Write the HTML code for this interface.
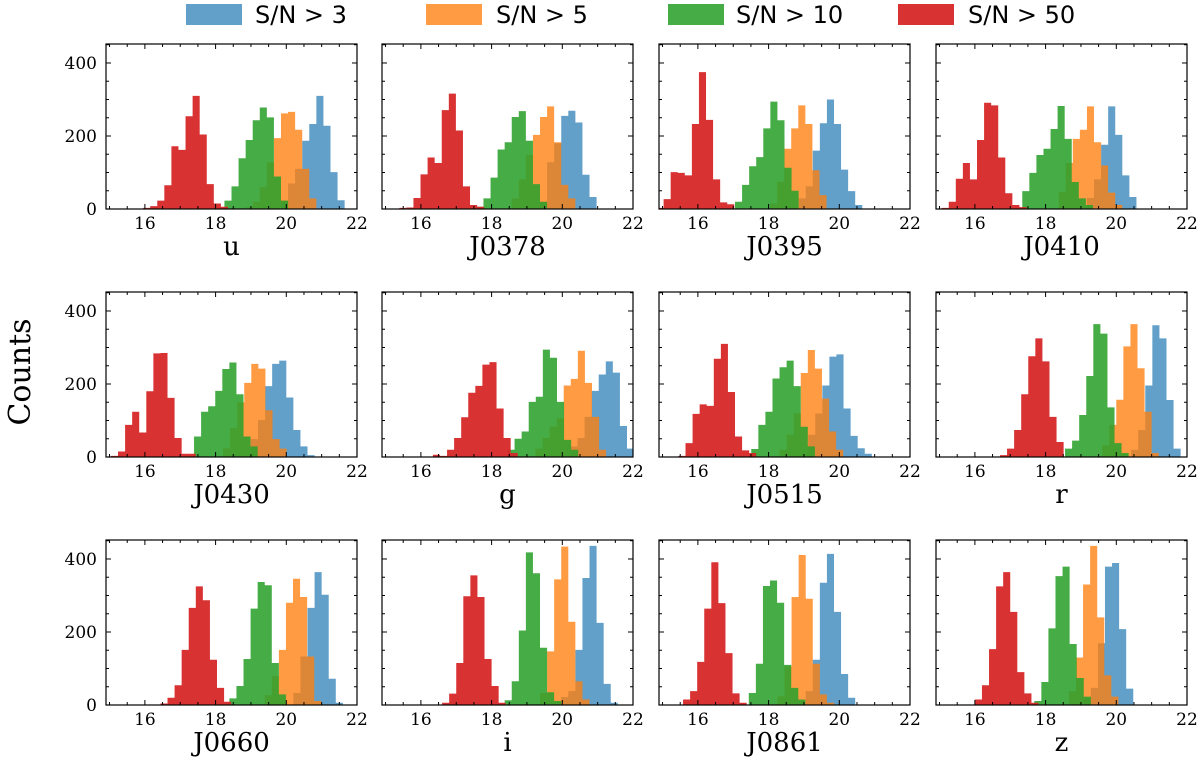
<!DOCTYPE html>
<html><head><meta charset="utf-8"><style>
html,body{margin:0;padding:0;background:#fff;}
svg{display:block;}
</style></head><body>
<svg id="fig" xmlns="http://www.w3.org/2000/svg" width="1200" height="764" viewBox="0 0 1200 764">
<rect x="0" y="0" width="1200" height="764" fill="#fff"/>
<g id="legend">
  <g><rect x="186" y="4" width="56" height="21" fill="#1f77b4" fill-opacity="0.7"/><text x="255" y="23" font-family="DejaVu Sans, sans-serif" font-size="24">S/N &gt; 3</text></g>
  <g><rect x="426" y="4" width="56" height="21" fill="#ff7f0e" fill-opacity="0.78"/><text x="496" y="23" font-family="DejaVu Sans, sans-serif" font-size="24">S/N &gt; 5</text></g>
  <g><rect x="668" y="4" width="56" height="21" fill="#2ca02c" fill-opacity="0.88"/><text x="736" y="23" font-family="DejaVu Sans, sans-serif" font-size="24">S/N &gt; 10</text></g>
  <g><rect x="898" y="4" width="56" height="21" fill="#d62728" fill-opacity="0.95"/><text x="968" y="23" font-family="DejaVu Sans, sans-serif" font-size="24">S/N &gt; 50</text></g>
</g>
<text x="0" y="0" transform="translate(30,372) rotate(-90)" text-anchor="middle" font-family="DejaVu Serif, Liberation Serif, serif" font-size="30">Counts</text>
<g id="panels"></g>
</svg>
<script>
const panelNames = ['u','J0378','J0395','J0410','J0430','g','J0515','r','J0660','i','J0861','z'];
const xTicks = [16,18,20,22];
const yTicks = [0,200,400];
const binWidth = 0.2;

const blueStart = [19.85,19.37,18.85,19.17,19.0,20.23,19.12,20.42,20.2,19.97,19.05,19.08];
const blueCounts = [
 [23,70,110,187,233,310,228,101,24],
 [20,128,180,255,269,237,94,33],
 [29,62,160,235,300,233,108,49,11],
 [30,81,176,281,203,92,33],
 [49,101,194,255,264,163,74,29,5],
 [29,52,110,181,226,262,231,85,23],
 [61,119,196,275,281,133,58,24,9],
 [20,74,196,361,325,156,23],
 [33,133,266,364,302,72,6],
 [22,38,151,348,436,225,58,6],
 [38,124,335,414,255,85,20],
 [20,47,169,379,389,208,45]
];
const orangeStart = [18.85,18.57,18.04,18.37,18.21,19.24,18.31,19.6,19.39,19.37,18.25,18.66];
const orangeCounts = [
 [5,20,60,128,194,262,266,217,110,29],
 [29,81,148,203,252,281,183,66,29],
 [15,75,165,221,284,233,106,38],
 [47,126,192,217,281,183,119,45,11],
 [24,79,150,203,255,242,128,49,23],
 [23,52,83,106,196,214,291,203,110,20],
 [20,61,119,230,293,242,160,70,20],
 [32,88,157,303,364,243,124,11],
 [27,79,151,280,346,296,133,11],
 [33,147,344,434,228,65,15],
 [24,106,296,411,291,113,29,6],
 [38,130,330,436,240,81,23]
];
const greenStart = [18.25,17.57,17.05,17.34,17.39,18.45,17.51,18.55,18.39,18.37,17.44,17.68];
const greenCounts = [
 [23,62,139,189,243,278,251,89,23],
 [6,29,86,163,183,252,268,187,68,20],
 [20,66,117,142,221,294,243,113,50],
 [49,99,148,165,219,282,192,74,29,11],
 [56,124,139,181,241,259,172,56,29],
 [20,50,70,151,165,294,272,151,47,20],
 [22,88,124,215,246,264,194,83,29],
 [23,45,115,222,364,338,136,38,11],
 [18,52,126,264,337,328,115,29],
 [13,65,204,418,361,157,35,11],
 [33,113,326,341,280,110,47,15],
 [11,63,210,353,379,167,74,23]
];
const redStart = [15.95,15.39,14.83,15.06,15.04,16.34,15.45,16.71,16.44,16.6,15.58,16.0];
const redCounts = [
 [3,8,23,65,172,162,254,310,204,68,15,6],
 [3,4,30,95,141,126,271,316,215,62,11,6],
 [3,27,101,99,92,233,375,244,81,18,13],
 [3,20,83,126,81,189,291,284,141,43,11,5],
 [3,15,88,124,67,180,284,285,162,52,9,9],
 [6,3,20,52,109,176,195,253,260,133,52,11],
 [3,38,118,144,140,269,310,178,56,18,11],
 [5,23,74,172,276,325,262,110,41],
 [4,20,54,151,266,325,287,124,47,9],
 [6,31,115,298,355,296,126,52,6],
 [15,38,118,264,391,279,142,32,6],
 [15,54,153,325,364,255,90,32,6]
];

const NS = 'http://www.w3.org/2000/svg';
const colLeft = [106,382,659,936];
const rowTop = [44,292,540];
const PW = 251, PH = 165;
const XMIN = 14.9, XMAX = 22.0, YMAX = 452;
const root = document.getElementById('panels');
const defs = document.createElementNS(NS,'defs');
root.appendChild(defs);

function mk(tag, attrs){const e=document.createElementNS(NS,tag);for(const k in attrs)e.setAttribute(k,attrs[k]);return e;}

const series = [
 {name:'sn3', color:'#1f77b4', op:0.7, start:blueStart, counts:blueCounts},
 {name:'sn5', color:'#ff7f0e', op:0.78, start:orangeStart, counts:orangeCounts},
 {name:'sn10', color:'#2ca02c', op:0.88, start:greenStart, counts:greenCounts},
 {name:'sn50', color:'#d62728', op:0.95, start:redStart, counts:redCounts}
];

panelNames.forEach((pname, p) => {
  const col = p % 4, row = Math.floor(p / 4);
  const L = colLeft[col], T = rowTop[row];
  const xs = v => L + (v - XMIN) / (XMAX - XMIN) * PW;
  const ys = c => T + PH - c / YMAX * PH;
  const g = mk('g', {});
  
  
  root.appendChild(g);
  const cp = mk('clipPath', {id:'clip'+p});
  cp.appendChild(mk('rect',{x:L,y:T,width:PW,height:PH}));
  defs.appendChild(cp);
  const hg = mk('g', {'clip-path':'url(#clip'+p+')'});
  g.appendChild(hg);
  series.forEach(s => {
    const st = s.start[p], cs = s.counts[p];
    let d = 'M' + xs(st).toFixed(2) + ',' + ys(0).toFixed(2);
    cs.forEach((c, i) => {
      const x0 = xs(st + i * binWidth), x1 = xs(st + (i + 1) * binWidth);
      d += 'L' + x0.toFixed(2) + ',' + ys(c).toFixed(2) + 'L' + x1.toFixed(2) + ',' + ys(c).toFixed(2);
    });
    d += 'L' + xs(st + cs.length * binWidth).toFixed(2) + ',' + ys(0).toFixed(2) + 'Z';
    const path = mk('path', {d:d, fill:s.color, 'fill-opacity':s.op, stroke:'none'});
    
    
    hg.appendChild(path);
  });
  const tg = mk('g', {stroke:'#000','stroke-width':1});
  g.appendChild(tg);
  for (let v = 15; v <= 22.001; v += 0.5) {
    const major = Math.abs(v/2 - Math.round(v/2)) < 1e-6;
    const len = major ? 5 : 3;
    const x = xs(v);
    tg.appendChild(mk('line',{x1:x,y1:T+PH,x2:x,y2:T+PH-len}));
    tg.appendChild(mk('line',{x1:x,y1:T,x2:x,y2:T+len}));
  }
  for (let c = 0; c <= YMAX; c += 50) {
    const major = c % 200 === 0;
    const len = major ? 5 : 3;
    const y = ys(c);
    tg.appendChild(mk('line',{x1:L,y1:y,x2:L+len,y2:y}));
    tg.appendChild(mk('line',{x1:L+PW,y1:y,x2:L+PW-len,y2:y}));
  }
  const fr = mk('rect',{x:L,y:T,width:PW,height:PH,fill:'none',stroke:'#000','stroke-width':1.2});
  
  
  g.appendChild(fr);
  xTicks.forEach(v => {
    const t = mk('text',{x:xs(v), y:T+PH+20, 'text-anchor':'middle','font-family':'DejaVu Serif, Liberation Serif, serif','font-size':17});
    t.textContent = v;
    
    
    g.appendChild(t);
  });
  if (col === 0) {
    yTicks.forEach(c => {
      const t = mk('text',{x:L-9, y:ys(c)+6, 'text-anchor':'end','font-family':'DejaVu Serif, Liberation Serif, serif','font-size':17});
      t.textContent = c;
      
      
      g.appendChild(t);
    });
  }
  const lab = mk('text',{x:L+PW/2, y:T+PH+46, 'text-anchor':'middle','font-family':'DejaVu Serif, Liberation Serif, serif','font-size':26});
  lab.textContent = pname;
  
  
  g.appendChild(lab);
});
</script>
</body></html>
